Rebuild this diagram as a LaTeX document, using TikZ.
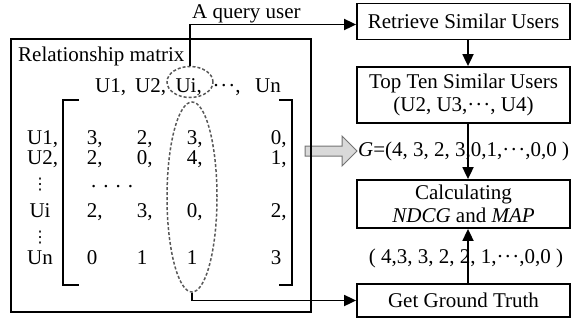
\documentclass[tikz,border=0pt]{standalone}
\usepackage{fontspec}
\setmainfont{Liberation Serif}
\newfontfamily\dvs{DejaVu Sans}
\usetikzlibrary{arrows.meta,shapes.geometric}
\newcommand{\mydots}{\textperiodcentered\kern1pt\textperiodcentered\kern1pt\textperiodcentered}
\newcommand{\myvdots}{{\dvs\fontsize{16}{16}\selectfont ⋮}}
\begin{document}
\begin{tikzpicture}[x=1pt,y=-1pt,
  every node/.style={font=\fontsize{21}{23}\selectfont, inner sep=0pt},
  box/.style={draw, line width=1.8pt, minimum width=213pt, align=center},
  ent/.style={text height=14pt, text depth=0pt},
  arr/.style={line width=1.8pt, -{Triangle[length=12pt,width=11pt]}},
  frame/.style={line width=1.8pt},
  dsh/.style={draw=black!65, line width=1.5pt, dash pattern=on 3pt off 2pt, ellipse}
]
\useasboundingbox (0,0) rectangle (572,322);

% right column boxes
\node[box, minimum height=36pt] (ret) at (463.5,21.5) {Retrieve Similar Users};
\node[box, minimum height=56pt] (top) at (463.5,95) {Top Ten Similar Users\\(U2, U3,\mydots, U4)};
\node[box, minimum height=48pt] (calc) at (463.5,204) {Calculating\\\textit{NDCG} and \textit{MAP}};
\node[box, minimum height=33pt] (ggt) at (463.5,300.5) {Get Ground Truth};

\node[anchor=west] (gv) at (358,151) {\textit{G}=(4, 3, 2, 3,0,1,\mydots,0,0 )};
\node (gt) at (466,258) {( 4,3, 3, 2, 2, 1,\mydots,0,0 )};

% block arrow
\draw[fill=black!15, draw=black!55, line width=1pt] (305,146) -- (342,146) -- (342,136) -- (357,151) -- (342,166) -- (342,156) -- (305,156) -- cycle;

% outer frame
\draw[frame] (11,39) rectangle (311,312);
\node[anchor=base west] (rm) at (18,61) {Relationship matrix};
\node[anchor=base west] (qu) at (192,18) {A query user};

% brackets
\draw[frame] (79,100) -- (63,100) -- (63,285) -- (79,285);
\draw[frame] (279,100) -- (292,100) -- (292,285) -- (279,285);

% header
\node[ent] (h1) at (108,85) {U1\rlap{,}};
\node[ent] (h2) at (148,85) {U2\rlap{,}};
\node[ent] (h3) at (186,85) {Ui\rlap{,}};
\node[ent] (h4) at (224,85) {\mydots\rlap{,}};
\node[ent] (h5) at (268,85) {Un};

% row labels
\node[ent] (r1) at (40,137) {U1\rlap{,}};
\node[ent] (r2) at (40,157) {U2\rlap{,}};
\node (r3) at (40,185) {\myvdots};
\node[ent] (r4) at (40,210) {Ui};
\node (r5) at (40,238) {\myvdots};
\node[ent] (r6) at (40,257) {Un};

% entries
\node[ent] (m1a) at (92,137) {3\rlap{,}};
\node[ent] (m1b) at (142,137) {2\rlap{,}};
\node[ent] (m1c) at (192,137) {3\rlap{,}};
\node[ent] (m1d) at (276,137) {0\rlap{,}};
\node[ent] (m2a) at (92,157) {2\rlap{,}};
\node[ent] (m2b) at (142,157) {0\rlap{,}};
\node[ent] (m2c) at (192,157) {4\rlap{,}};
\node[ent] (m2d) at (276,157) {1\rlap{,}};
\node[anchor=base west] (dd) at (91,187) {. . . .};
\node[ent] (m3a) at (92,210) {2\rlap{,}};
\node[ent] (m3b) at (142,210) {3\rlap{,}};
\node[ent] (m3c) at (192,210) {0\rlap{,}};
\node[ent] (m3d) at (276,210) {2\rlap{,}};
\node[ent] (m4a) at (92,257) {0};
\node[ent] (m4b) at (142,257) {1};
\node[ent] (m4c) at (192,257) {1};
\node[ent] (m4d) at (276,257) {3};

% dashed ellipses
\node[dsh, minimum width=46pt, minimum height=31pt] (sel) at (190,82) {};
\node[dsh, minimum width=50pt, minimum height=190pt] (bel) at (192,197) {};

% connectors
\draw[arr] (sel.north) |- ([yshift=-3pt]ret.west);
\draw[arr] (bel.south) |- (ggt.west);
\draw[arr] ([xshift=4.5pt]ret.south) -- ([xshift=4.5pt]top.north);
\draw[arr] ([xshift=4.5pt]top.south) -- ([xshift=4.5pt]calc.north);
\draw[arr] ([xshift=4.5pt]ggt.north) -- ([xshift=4.5pt]calc.south);
\end{tikzpicture}
\end{document}
